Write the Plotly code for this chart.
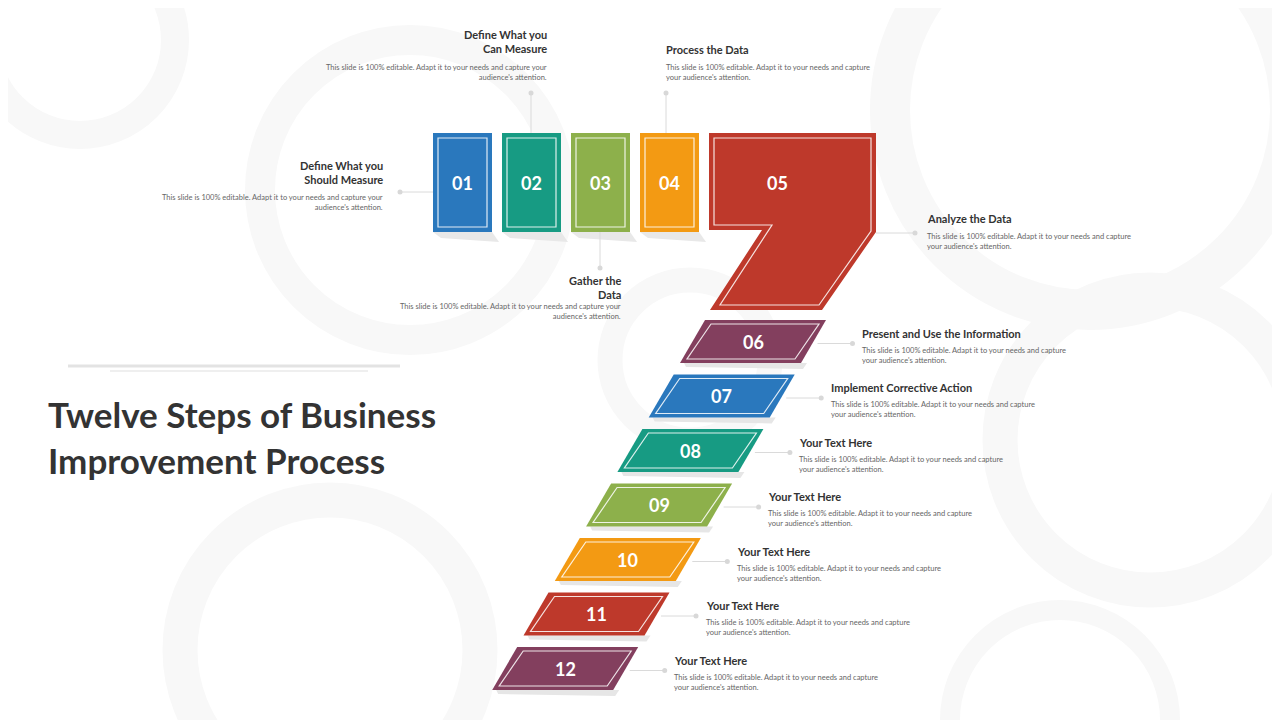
import plotly.graph_objects as go

step_labels = ["01","02","03","04","05","06","07","08","09","10","11","12"]
step_colors = ["#2A78BD","#179B83","#8DB04B","#F39A13","#BE392B","#833F5E",
               "#2A78BD","#179B83","#8DB04B","#F39A13","#BE392B","#833F5E"]
step_titles = ["Define What you<br>Should Measure","Define What you<br>Can Measure",
               "Gather the<br>Data","Process the Data","Analyze the Data",
               "Present and Use the Information","Implement Corrective Action",
               "Your Text Here","Your Text Here","Your Text Here","Your Text Here","Your Text Here"]
body = "This slide is 100% editable. Adapt it to your needs and capture<br>your audience's attention."
body_r = "This slide is 100% editable. Adapt it to your needs and capture your<br>audience's attention."
main_title = "Twelve Steps of Business<br>Improvement Process"

FONT = "Lato"
shapes, ann = [], []

for cx, cy, r, w in [(80,40,95,28),(410,190,150,30),(1090,110,200,40),(1150,440,150,35),
                     (330,650,150,35),(690,360,80,25),(1060,720,110,20)]:
    shapes.append(dict(type="circle", x0=cx-r, x1=cx+r, y0=cy-r, y1=cy+r,
                       line=dict(color="#F8F8F8", width=w), layer="below"))

def poly(pts):
    return "M " + " L ".join(f"{x},{y}" for x, y in pts) + " Z"

def add_poly(pts, color, inner):
    shapes.append(dict(type="path", path=poly(pts), fillcolor=color, line=dict(width=0)))
    shapes.append(dict(type="path", path=poly(inner), fillcolor="rgba(0,0,0,0)",
                       line=dict(color="rgba(255,255,255,0.85)", width=1.2)))

def num(x, y, t, s=18):
    ann.append(dict(x=x, y=y, text=f"<b>{t}</b>", showarrow=False,
                    font=dict(family=FONT, size=s, color="white")))

for i in range(4):
    x0 = 433 + 69*i
    shapes.append(dict(type="path", path=poly([(x0,232),(x0+59,232),(x0+66,242),(x0+8,238)]),
                       fillcolor="#E8E8E8", line=dict(width=0), layer="below"))

for i in range(4):
    x0, x1 = 433 + 69*i, 492 + 69*i
    add_poly([(x0,133),(x1,133),(x1,232),(x0,232)], step_colors[i],
             [(x0+5,138),(x1-5,138),(x1-5,227),(x0+5,227)])
    num((x0+x1)/2, 183, step_labels[i])

outer = [(709,133),(876,133),(876,232),(822,310),(710,310),(762,230),(709,230)]
inner = [(714,138),(871,138),(871,231),(819,305),(720,305),(772,225),(714,225)]
add_poly(outer, step_colors[4], inner)
num(777, 183, step_labels[4])

for k in range(7):
    i = 5 + k
    dx, dy = -31.3*k, 54.5*k
    tl, tr = 705+dx, 826+dx
    t, b = 320+dy, 363+dy
    sl = 25
    shapes.append(dict(type="path", path=poly([(tl-sl+4,b),(tr-sl+6,b),(tr-sl+2,b+6),(tl-sl+6,b+4)]),
                       fillcolor="#E6E6E6", line=dict(width=0), layer="below"))
    add_poly([(tl,t),(tr,t),(tr-sl,b),(tl-sl,b)], step_colors[i],
             [(tl+6,t+4),(tr-7,t+4),(tr-sl-6,b-4),(tl-sl+7,b-4)])
    num((tl+tr-sl)/2, (t+b)/2, step_labels[i])
    ly = (t+b)/2 + 2
    shapes.append(dict(type="line", x0=tr-sl/2+4, x1=852+dx, y0=ly, y1=ly, line=dict(color="#DADADA", width=1)))
    shapes.append(dict(type="circle", x0=850+dx, x1=855+dx, y0=ly-2.5, y1=ly+2.5, fillcolor="#D8D8D8", line=dict(width=0)))
    tx = 860 + dx
    ann.append(dict(x=tx, y=333+dy, text=f"<b>{step_titles[i]}</b>", showarrow=False, xanchor="left",
                    font=dict(family=FONT, size=11, color="#333")))
    ann.append(dict(x=tx, y=355+dy, text=body, showarrow=False, xanchor="left", align="left",
                    font=dict(family=FONT, size=7.5, color="#666")))

def title_block(x, ty, by, ttl, bd, anchor):
    ann.append(dict(x=x, y=ty, text=f"<b>{ttl}</b>", showarrow=False, xanchor=anchor, align=anchor,
                    font=dict(family=FONT, size=11, color="#333")))
    ann.append(dict(x=x, y=by, text=bd, showarrow=False, xanchor=anchor, align=anchor,
                    font=dict(family=FONT, size=7.5, color="#666")))

title_block(385, 172, 202, step_titles[0], body_r, "right")
title_block(549, 41, 72, step_titles[1], body_r, "right")
title_block(623, 287, 311, step_titles[2], body_r, "right")
title_block(664, 49, 72, step_titles[3], body, "left")
title_block(925, 218, 241, step_titles[4], body, "left")

def line(x0, y0, x1, y1, dot):
    shapes.append(dict(type="line", x0=x0, y0=y0, x1=x1, y1=y1, line=dict(color="#DADADA", width=1)))
    shapes.append(dict(type="circle", x0=dot[0]-2.5, x1=dot[0]+2.5, y0=dot[1]-2.5, y1=dot[1]+2.5,
                       fillcolor="#D8D8D8", line=dict(width=0)))

line(400, 192, 433, 192, (400, 192))
line(531, 93, 531, 133, (531, 93))
line(600, 232, 600, 268, (600, 268))
line(666, 93, 666, 133, (666, 93))
line(876, 233, 915, 233, (915, 233))

shapes.append(dict(type="line", x0=68, x1=400, y0=366, y1=366, line=dict(color="#E3E3E3", width=3)))
shapes.append(dict(type="line", x0=110, x1=368, y0=371, y1=371, line=dict(color="#EFEFEF", width=2)))
ann.append(dict(x=46, y=437, text=f"<b>{main_title}</b>", showarrow=False, xanchor="left", align="left",
                font=dict(family=FONT, size=35, color="#333")))

fig = go.Figure()
fig.update_layout(width=1280, height=720, margin=dict(l=0, r=0, t=0, b=0),
                  paper_bgcolor="white", plot_bgcolor="white",
                  xaxis=dict(range=[8,1288], visible=False, fixedrange=True),
                  yaxis=dict(range=[728,8], visible=False, fixedrange=True),
                  shapes=shapes, annotations=ann, showlegend=False)
fig.write_html("out.html", config={"displayModeBar": False})
